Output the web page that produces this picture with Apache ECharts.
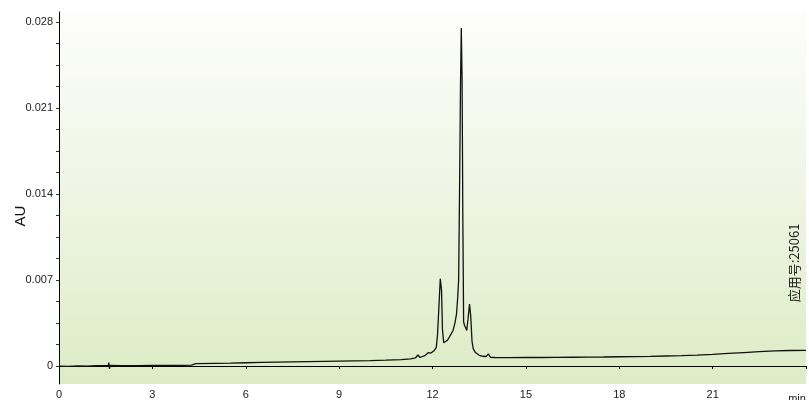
<!DOCTYPE html>
<html>
<head>
<meta charset="utf-8">
<style>
  html, body { margin: 0; padding: 0; background: #ffffff; }
  #chart { width: 809px; height: 400px; }
</style>
<script src="https://cdn.jsdelivr.net/npm/echarts@6/dist/echarts.min.js"></script>
</head>
<body>
<div id="chart"></div>
<script>
// Retention time (min) of each sampled point of the trace
const timeMin = [
  0.00, 0.30, 0.60, 0.90, 1.20, 1.50, 1.58, 1.60, 1.62, 1.65,
  2.00, 2.50, 3.00, 3.50, 4.00, 4.25, 4.40, 5.00, 5.50, 6.00,
  6.50, 7.00, 7.50, 8.00, 8.50, 9.00, 9.50, 10.00, 10.50, 11.00,
  11.30, 11.45, 11.53, 11.60, 11.75, 11.87, 11.95, 12.05, 12.12, 12.16,
  12.20, 12.25, 12.29, 12.32, 12.36, 12.42, 12.48, 12.55, 12.60, 12.66,
  12.72, 12.77, 12.81, 12.84, 12.87, 12.90, 12.925, 12.95, 12.975, 13.00,
  13.03, 13.07, 13.10, 13.14, 13.19, 13.23, 13.27, 13.31, 13.38, 13.50,
  13.62, 13.72, 13.80, 13.86, 14.00, 14.50, 15.00, 15.50, 16.00, 16.50,
  17.00, 17.50, 18.00, 18.50, 19.00, 19.50, 20.00, 20.50, 21.00, 21.50,
  22.00, 22.50, 23.00, 23.50, 24.00
];

// Detector response (AU) at each time above
const absorbance = [
  0.00000, -0.00002, 0.00001, 0.00000, 0.00003, 0.00003, 0.00004, 0.00028, -0.00022, 0.00005,
  0.00004, 0.00004, 0.00005, 0.00005, 0.00006, 0.00008, 0.00020, 0.00022, 0.00024, 0.00027,
  0.00030, 0.00033, 0.00035, 0.00037, 0.00039, 0.00041, 0.00043, 0.00045, 0.00048, 0.00052,
  0.00058, 0.00066, 0.00090, 0.00070, 0.00085, 0.00110, 0.00106, 0.00125, 0.00150, 0.00250,
  0.00450, 0.00710, 0.00620, 0.00300, 0.00190, 0.00195, 0.00210, 0.00240, 0.00228, 0.00290,
  0.00350, 0.00420, 0.00560, 0.00700, 0.01450, 0.02300, 0.02750, 0.02350, 0.01200, 0.00360,
  0.00330, 0.00310, 0.00290, 0.00380, 0.00505, 0.00400, 0.00200, 0.00140, 0.00110, 0.00088,
  0.00080, 0.00078, 0.00098, 0.00072, 0.00070, 0.00069, 0.00070, 0.00070, 0.00071, 0.00072,
  0.00073, 0.00074, 0.00076, 0.00077, 0.00079, 0.00082, 0.00085, 0.00090, 0.00096, 0.00103,
  0.00110, 0.00117, 0.00123, 0.00127, 0.00128
];

// Labelled AU values and the minor tick positions between them
const yTickLabels = [0, 0.007, 0.014, 0.021, 0.028];
const yMinorTicks = [0, 0.00175, 0.0035, 0.00525, 0.007, 0.00875, 0.0105, 0.01225, 0.014,
  0.01575, 0.0175, 0.01925, 0.021, 0.02275, 0.0245, 0.02625, 0.028];

const xUnitLabel = 'min';
const yAxisTitle = 'AU';
const runNote = '应用号:25061';

const chart = echarts.init(document.getElementById('chart'), null, { renderer: 'canvas' });

const font = '"Liberation Sans", Arial, Helvetica, sans-serif';

chart.setOption({
  animation: false,
  grid: {
    left: 59, right: 0, top: 12, bottom: 14,
    show: true,
    borderWidth: 0,
    backgroundColor: new echarts.graphic.LinearGradient(0, 0, 0, 1, [
      { offset: 0, color: '#fdfdfb' },
      { offset: 0.5, color: '#eef5e3' },
      { offset: 1, color: '#dcecc5' }
    ])
  },
  xAxis: {
    type: 'value',
    min: 0, max: 24, interval: 3,
    axisLine: { show: true, lineStyle: { color: '#000', width: 1 } },
    axisTick: { show: true, length: 3, lineStyle: { color: '#000' } },
    splitLine: { show: false },
    axisLabel: {
      margin: 5,
      fontFamily: font, fontSize: 11, color: '#222',
      formatter: v => (v >= 24 ? '' : String(v))
    }
  },
  yAxis: {
    type: 'value',
    min: -0.001457, max: 0.02881,
    axisLine: { show: true, lineStyle: { color: '#000', width: 1 } },
    axisTick: { show: true, length: 3, customValues: yMinorTicks, lineStyle: { color: '#333' } },
    splitLine: { show: false },
    axisLabel: {
      margin: 6,
      customValues: yTickLabels,
      fontFamily: font, fontSize: 11, color: '#222',
      formatter: v => (v === 0 ? '0' : v.toFixed(3))
    }
  },
  series: [{
    type: 'line',
    data: timeMin.map((t, i) => [t, absorbance[i]]),
    showSymbol: false,
    smooth: false,
    lineStyle: { color: '#111', width: 1.3 },
    silent: true
  }],
  graphic: [
    {
      type: 'text', x: 21, y: 216, rotation: Math.PI / 2,
      style: { text: yAxisTitle, fontFamily: font, fontSize: 15, fill: '#111', align: 'center', verticalAlign: 'middle' }
    },
    {
      type: 'text', x: 797, y: 393,
      style: { text: xUnitLabel, fontFamily: font, fontSize: 11, fill: '#222', align: 'center', verticalAlign: 'top' }
    },
    {
      type: 'text', x: 794, y: 263, rotation: Math.PI / 2,
      style: { text: runNote, fontFamily: '"Noto Sans CJK SC", sans-serif', fontSize: 13, fill: '#1a1a1a', align: 'center', verticalAlign: 'middle' }
    }
  ]
});
</script>
</body>
</html>
